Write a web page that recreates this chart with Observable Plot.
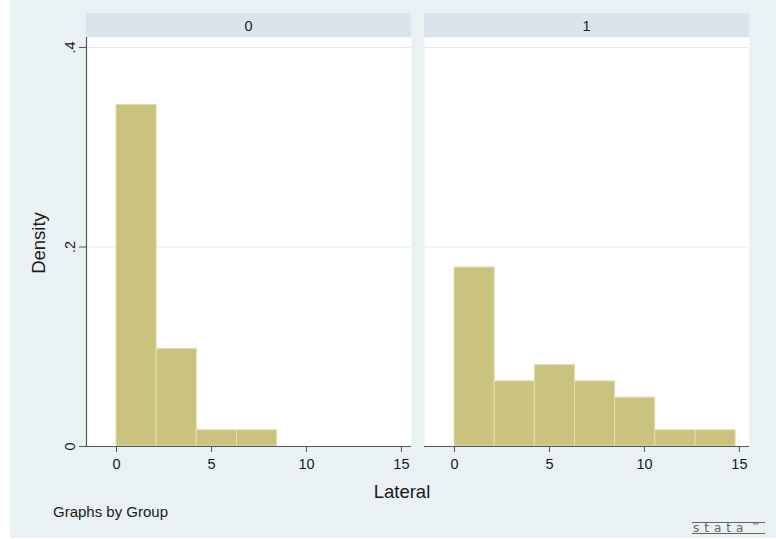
<!DOCTYPE html>
<html>
<head>
<meta charset="utf-8">
<script src="https://cdn.jsdelivr.net/npm/d3@7"></script>
<script src="https://cdn.jsdelivr.net/npm/@observablehq/plot@0.6"></script>
<style>
  body { margin: 0; background: #ffffff; }
  #wrap { position: relative; width: 776px; height: 539px; overflow: hidden; background: #ffffff; }
  #bg { position: absolute; left: 10px; top: 0; width: 766px; height: 538px; background: #e9f1f3; }
  #chart { position: absolute; left: 0; top: 0; }
  #chart svg text { font-family: 'Liberation Sans', Arial, sans-serif; }
  #chart svg g[aria-label$="tick label"] text { font-size: 14.5px; fill: #1a1a1a; }
</style>
</head>
<body>
<div id="wrap">
  <div id="bg"></div>
  <div id="chart"></div>
</div>
<script>
// ---- data ----
const groups = ["0", "1"];
const binStarts = [0, 2.114, 4.229, 6.343, 8.457, 10.571, 12.686];
const binWidth = 2.114;
const density0 = [0.3425, 0.0979, 0.0163, 0.0163];
const density1 = [0.1795, 0.0653, 0.0816, 0.0653, 0.0490, 0.0163, 0.0163];
const xTicks = [0, 5, 10, 15];
const yTicks = [0, 0.2, 0.4];
const xTitle = "Lateral";
const yTitle = "Density";
const note = "Graphs by Group";

const rows = [
  ...density0.map((d, i) => ({group: groups[0], x1: binStarts[i], x2: binStarts[i] + binWidth, density: d})),
  ...density1.map((d, i) => ({group: groups[1], x1: binStarts[i], x2: binStarts[i] + binWidth, density: d}))
];

const font = "'Liberation Sans', Arial, sans-serif";
const axisColor = "#555555";
const tickFont = 14.5;

const plot = Plot.plot({
  width: 776,
  height: 539,
  marginTop: 37,
  marginBottom: 93,
  marginLeft: 86,
  marginRight: 27,
  style: {background: "transparent", color: "#1a1a1a"},
  fx: {domain: groups, paddingInner: 13 / 338, paddingOuter: 0, round: false, axis: null, label: null},
  x: {domain: [-1.58, 15.53], label: null},
  y: {domain: [0, 0.41], label: null},
  marks: [
    Plot.frame({fill: "white", stroke: "none"}),
    Plot.gridY(yTicks.filter(d => d > 0), {stroke: "#e2ebee", strokeOpacity: 1, strokeWidth: 1.2}),
    Plot.rectY(rows, {fx: "group", x1: "x1", x2: "x2", y: "density", fill: "#c9c37f", stroke: "#e2deaf", strokeWidth: 1}),
    Plot.ruleY([0], {stroke: axisColor, strokeWidth: 1.2}),
    Plot.frame({anchor: "left", stroke: axisColor, strokeWidth: 1.2, facetAnchor: "left"}),
    Plot.axisX({ticks: xTicks, tickSize: 6, tickPadding: 6, stroke: axisColor, label: null, fontSize: tickFont}),
    Plot.axisY({ticks: yTicks, tickSize: 7, tickPadding: 5, tickRotate: -90, stroke: axisColor, label: null, fontSize: tickFont,
      tickFormat: d => d === 0 ? "0" : String(d).replace(/^0\./, ".")})
  ]
});

document.getElementById("chart").appendChild(plot);

// facet strips drawn from the fx scale
const svg = d3.select(plot);
const fx = plot.scale("fx");
const bw = fx.bandwidth;
const strips = svg.insert("g", ":first-child");
groups.forEach(g => {
  const x0 = fx.apply(g);
  strips.append("rect").attr("x", x0).attr("y", 13).attr("width", bw).attr("height", 24).attr("fill", "#d9e5eb");
  strips.append("text").attr("x", x0 + bw / 2).attr("y", 30.5).attr("text-anchor", "middle")
    .style("font-size", tickFont + "px").attr("fill", "#1a1a1a").text(g);
});

// titles
svg.append("text").attr("x", 402).attr("y", 498).attr("text-anchor", "middle")
  .style("font-size", "18.5px").attr("fill", "#1a1a1a").text(xTitle);
svg.append("text").attr("transform", "translate(45,243) rotate(-90)").attr("text-anchor", "middle")
  .style("font-size", "18.5px").attr("fill", "#1a1a1a").text(yTitle);
svg.append("text").attr("x", 53).attr("y", 517).attr("text-anchor", "start")
  .style("font-size", "15px").attr("fill", "#1a1a1a").text(note);

// logo
const logo = svg.append("g").attr("fill", "#666").attr("stroke", "#666");
logo.append("line").attr("x1", 692).attr("x2", 765).attr("y1", 522.5).attr("y2", 522.5).attr("stroke-width", 1);
logo.append("line").attr("x1", 692).attr("x2", 765).attr("y1", 533.5).attr("y2", 533.5).attr("stroke-width", 1);
logo.append("text").attr("x", 693).attr("y", 531.5).attr("stroke", "none").attr("text-anchor", "start")
  .style("font-family", "'DejaVu Sans', sans-serif").style("font-size", "12px").attr("letter-spacing", 5).text("stata");
logo.append("text").attr("x", 752).attr("y", 529).attr("stroke", "none").attr("text-anchor", "start")
  .style("font-family", "'DejaVu Sans', sans-serif").style("font-size", "8px").text("™");
</script>
</body>
</html>
